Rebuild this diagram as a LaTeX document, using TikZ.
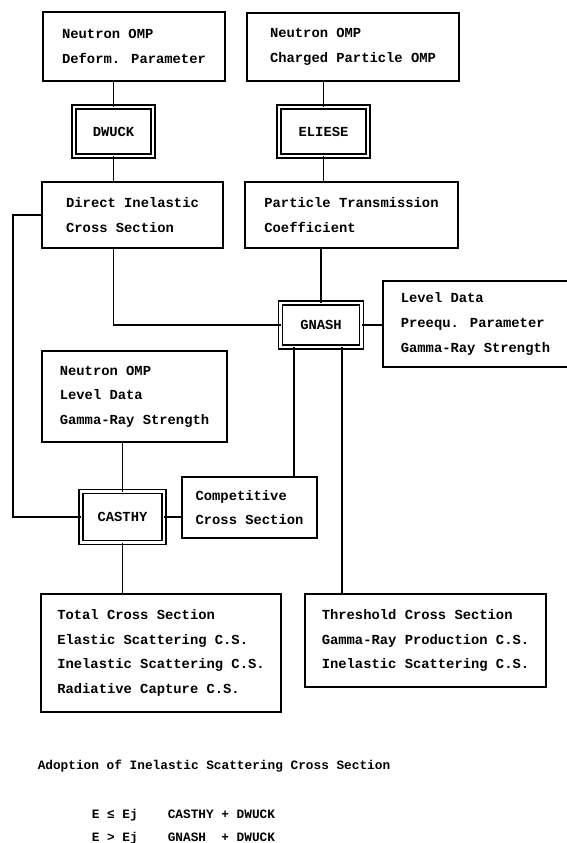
\documentclass[tikz,border=0pt]{standalone}
\usepackage{fontspec}
\newfontfamily\dotfont{Liberation Mono}
\usepackage{tikz}

\begin{document}
\begin{tikzpicture}[
    x=0.03cm, y=-0.03cm, line width=1.3pt,
    box/.style={draw, align=left, inner sep=0pt, outer sep=0pt, font=\dotfont\bfseries\fontsize{11.8}{21}\selectfont},
    prog/.style={draw, double, double distance=2.1pt, inner sep=0pt, outer sep=0pt, font=\dotfont\bfseries\fontsize{11.8}{14}\selectfont},
    note/.style={anchor=base west, inner sep=0pt, font=\dotfont\bfseries\fontsize{10.9}{13}\selectfont}
]
\useasboundingbox (0,0) rectangle (567,843);
\clip (0,0) rectangle (567,843);

\node[box, minimum width=5.46cm, minimum height=2.07cm] (nomp) at (134,46.5) {Neutron OMP\\Deform. Parameter};
\node[box, minimum width=6.36cm, minimum height=2.04cm] (cpomp) at (353,47) {Neutron OMP\\Charged Particle OMP};
\node[prog, minimum width=2.37cm, minimum height=1.47cm] (dwuck) at (113.5,131.5) {DWUCK};
\node[prog, minimum width=2.67cm, minimum height=1.47cm] (eliese) at (323.5,131.5) {ELIESE};
\node[box, minimum width=5.43cm, minimum height=1.98cm] (dics) at (132.5,215) {Direct Inelastic\\Cross Section};
\node[box, minimum width=6.39cm, minimum height=1.98cm] (ptc) at (351.5,215) {Particle Transmission\\Coefficient};
\node[prog, minimum width=2.43cm, minimum height=1.32cm] (gnash) at (321,325) {GNASH};
\node[box, minimum width=5.55cm, minimum height=2.58cm] (gpar) at (475.5,324) {Level Data\\Preequ. Parameter\\Gamma-Ray Strength};
\node[box, minimum width=5.55cm, minimum height=2.73cm] (cpar) at (134.5,396.5) {Neutron OMP\\Level Data\\Gamma-Ray Strength};
\node[prog, minimum width=2.49cm, minimum height=1.53cm] (casthy) at (122.5,517) {CASTHY};
\node[box, minimum width=4.05cm, minimum height=1.83cm] (comp) at (249.5,507.5) {Competitive\\Cross Section};
\node[box, minimum width=7.2cm, minimum height=3.54cm] (cout) at (161,653) {Total Cross Section\\Elastic Scattering C.S.\\Inelastic Scattering C.S.\\Radiative Capture C.S.};
\node[box, minimum width=7.23cm, minimum height=2.79cm] (gout) at (425.5,640.5) {Threshold Cross Section\\Gamma-Ray Production C.S.\\Inelastic Scattering C.S.};

\coordinate (lbus) at (13,215);

\draw (dwuck.north) -- (dwuck.north |- nomp.south);
\draw (dwuck.south) -- (dwuck.south |- dics.north);
\draw (eliese.north) -- (eliese.north |- cpomp.south);
\draw (eliese.south) -- (eliese.south |- ptc.north);
\draw (dwuck.south |- dics.south) |- (gnash.west);
\draw (gnash.north) -- (gnash.north |- ptc.south);
\draw (gnash.east) -- (gnash.east -| gpar.west);
\draw (dics.west) -- (lbus) |- (casthy.west);
\draw (casthy.north) -- (casthy.north |- cpar.south);
\draw (casthy.east) -- (casthy.east -| comp.west);
\draw (casthy.south) -- (casthy.south |- cout.north);
\draw (gnash.219) -- (gnash.219 |- comp.north);
\draw (gnash.314) -- (gnash.314 |- gout.north);

\node[note] (adopt) at (37,769) {Adoption of Inelastic Scattering Cross Section};
\node[note] (cond1) at (91,818) {E ≤ Ej};
\node[note] (form1) at (167,818) {CASTHY + DWUCK};
\node[note] (cond2) at (91,841.5) {E > Ej};
\node[note] (form2) at (167,841.5) {GNASH~~+ DWUCK};
\end{tikzpicture}
\end{document}
